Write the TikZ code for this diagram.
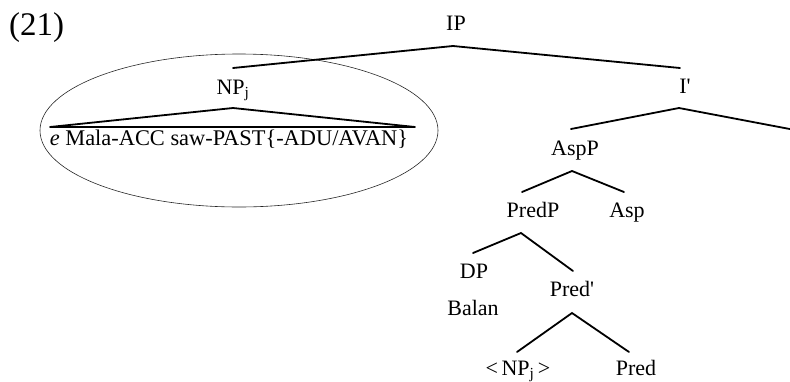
\documentclass[tikz,border=0pt]{standalone}
\usepackage{fontspec}
\setmainfont{Liberation Serif}
\usetikzlibrary{shapes.geometric}
\begin{document}
\begin{tikzpicture}[x=1pt,y=-1pt,
  lbl/.style={font=\fontsize{22}{25}\selectfont, inner sep=0pt, anchor=base},
  br/.style={line width=1.8pt, line cap=round},
  oval/.style={draw=black!85, line width=0.6pt, ellipse, inner sep=0pt}]
\useasboundingbox (0,0) rectangle (790,381);
\node[font=\fontsize{33}{36}\selectfont, inner sep=0pt, anchor=base west] (ex) at (9,35) {(21)};
% labels
\node[lbl] (IP) at (456,30) {IP};
\node[lbl] (NP) at (233,94) {NP\textsubscript{j}};
\node[lbl, font=\fontsize{22.4}{25}\selectfont] (str) at (229,145) {\textit{e} Mala-ACC saw-PAST\{-ADU/AVAN\}};
\node[lbl] (Ibar) at (685,93) {I\textquotesingle};
\node[lbl] (AspP) at (575,155) {AspP};
\node[lbl] (PredP) at (533,217) {PredP};
\node[lbl] (Asp) at (627,217) {Asp};
\node[lbl] (DP) at (474,278) {DP};
\node[lbl] (Predbar) at (572,296) {Pred\textquotesingle};
\node[lbl] (Balan) at (473,315) {Balan};
\node[lbl] (tr) at (518,375) {<\kern3.5pt NP\textsubscript{j}\kern3.5pt >};
\node[lbl] (Pred) at (636,375) {Pred};
% oval
\node[oval, minimum width=398pt, minimum height=153pt] (circle) at (239,130.5) {};
% branch points
\coordinate (IPa) at (453,46);  \coordinate (IPl) at (233,68);  \coordinate (IPr) at (680,68);
\coordinate (NPa) at (233,108); \coordinate (NPl) at (50,127);  \coordinate (NPr) at (415,127);
\coordinate (Ia) at (679,108);  \coordinate (Il) at (571,129);  \coordinate (Ir) at (795,130);
\coordinate (Aa) at (572,171);  \coordinate (Al) at (522,192);  \coordinate (Ar) at (624,192);
\coordinate (Pa) at (521,233);  \coordinate (Pl) at (473,253);  \coordinate (Pr) at (573,271);
\coordinate (Qa) at (572,313);  \coordinate (Ql) at (517,352);  \coordinate (Qr) at (629,352);
% branches
\draw[br] (IPl) -- (IPa) -- (IPr);
\draw[br] (NPl) -- (NPa) -- (NPr);
\draw[line width=2.2pt] (NPl) -- (NPr);
\draw[br] (Il) -- (Ia) -- (Ir);
\draw[br] (Al) -- (Aa) -- (Ar);
\draw[br] (Pl) -- (Pa) -- (Pr);
\draw[br] (Ql) -- (Qa) -- (Qr);
\end{tikzpicture}
\end{document}
